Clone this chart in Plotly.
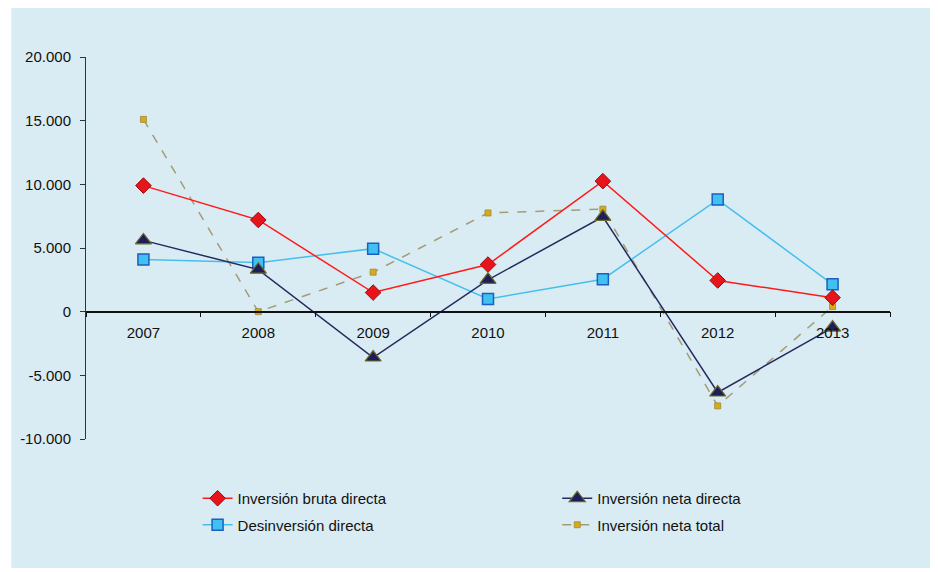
import plotly.graph_objects as go

years = ["2007", "2008", "2009", "2010", "2011", "2012", "2013"]
bruta = [9900, 7200, 1500, 3700, 10250, 2450, 1100]
desinv = [4100, 3850, 4950, 1000, 2550, 8800, 2150]
neta_directa = [5600, 3300, -3600, 2500, 7450, -6350, -1250]
neta_total = [15100, 0, 3100, 7750, 8050, -7400, 400]

y_tickvals = [-10000, -5000, 0, 5000, 10000, 15000, 20000]
y_ticktext = ["-10.000", "-5.000", "0", "5.000", "10.000", "15.000", "20.000"]

BG = "#daecf3"
FONT = "Liberation Sans, Arial, sans-serif"

fig = go.Figure()

fig.add_trace(go.Scatter(
    x=years, y=neta_total, name="Inversión neta total", mode="lines+markers",
    line=dict(color="#a39c74", width=1.5, dash="dash"),
    marker=dict(symbol="square", size=6, color="#d9a91c", line=dict(color="#9a8a30", width=0.8)),
    legend="legend2", legendgroup="d", legendrank=2,
))
fig.add_trace(go.Scatter(
    x=years, y=desinv, name="Desinversión directa", mode="lines+markers",
    line=dict(color="#45c0ee", width=1.5),
    marker=dict(symbol="square", size=11, color="#3fc2f2", line=dict(color="#1d5ec0", width=1.5)),
    legend="legend", legendgroup="b", legendrank=2,
))
fig.add_trace(go.Scatter(
    x=years, y=bruta, name="Inversión bruta directa", mode="lines+markers",
    line=dict(color="#ff1a1a", width=1.5),
    marker=dict(symbol="diamond", size=12, color="#e8141b", line=dict(color="#9a0a0a", width=1)),
    legend="legend", legendgroup="a", legendrank=1,
))
fig.add_trace(go.Scatter(
    x=years, y=neta_directa, name="Inversión neta directa", mode="lines+markers",
    line=dict(color="#262a60", width=1.5),
    marker=dict(symbol="triangle-up", size=14, color="#1c1f5a", line=dict(color="#6e6a28", width=1.2)),
    legend="legend2", legendgroup="c", legendrank=1,
))

# page has an 8px body margin; figure coords = page coords - 8
OFF = 8
W, H = 938 - OFF, 572 - OFF
L, R, T = 83 - OFF, 48, 57 - OFF
B = H - (439 - OFF)
pw = W - L - R
ph = H - T - B

def px_x(p):
    return (p - OFF - L) / pw

def px_y(p):
    return (H - B - (p - OFF)) / ph

fig.add_shape(type="rect", xref="paper", yref="paper", layer="below",
              x0=px_x(OFF), x1=px_x(936), y0=px_y(568), y1=px_y(OFF),
              fillcolor=BG, line=dict(width=0))

fig.update_layout(
    width=W, height=H,
    margin=dict(l=L, r=R, t=T, b=B),
    paper_bgcolor="white",
    plot_bgcolor="rgba(0,0,0,0)",
    font=dict(family=FONT, size=15, color="#111111"),
    showlegend=True,
    legend=dict(
        x=px_x(195), y=px_y(482), xanchor="left", yanchor="top",
        orientation="v", tracegroupgap=4, bgcolor="rgba(0,0,0,0)",
        font=dict(size=15, family=FONT, color="#111111"), traceorder="grouped",
    ),
    legend2=dict(
        x=px_x(556), y=px_y(482), xanchor="left", yanchor="top",
        orientation="v", tracegroupgap=4, bgcolor="rgba(0,0,0,0)",
        font=dict(size=15, family=FONT, color="#111111"), traceorder="grouped",
    ),
    xaxis=dict(
        type="category", categoryorder="array", categoryarray=years,
        range=[-0.5, 6.5], anchor="free", position=1/3,
        showline=True, linecolor="#111111", linewidth=1.5,
        ticks="outside", tickson="boundaries", ticklen=5, tickcolor="#111111",
        showgrid=False, zeroline=False, ticklabelstandoff=8,
        tickfont=dict(size=15, family=FONT, color="#111111"),
    ),
    yaxis=dict(
        range=[-10000, 20000], tickvals=y_tickvals, ticktext=y_ticktext,
        showline=True, linecolor="#333333", linewidth=1,
        ticks="outside", ticklen=5, tickcolor="#333333",
        showgrid=False, zeroline=False, ticklabelstandoff=6,
        tickfont=dict(size=15, family=FONT, color="#111111"),
    ),
)

fig.write_html("out.html")
